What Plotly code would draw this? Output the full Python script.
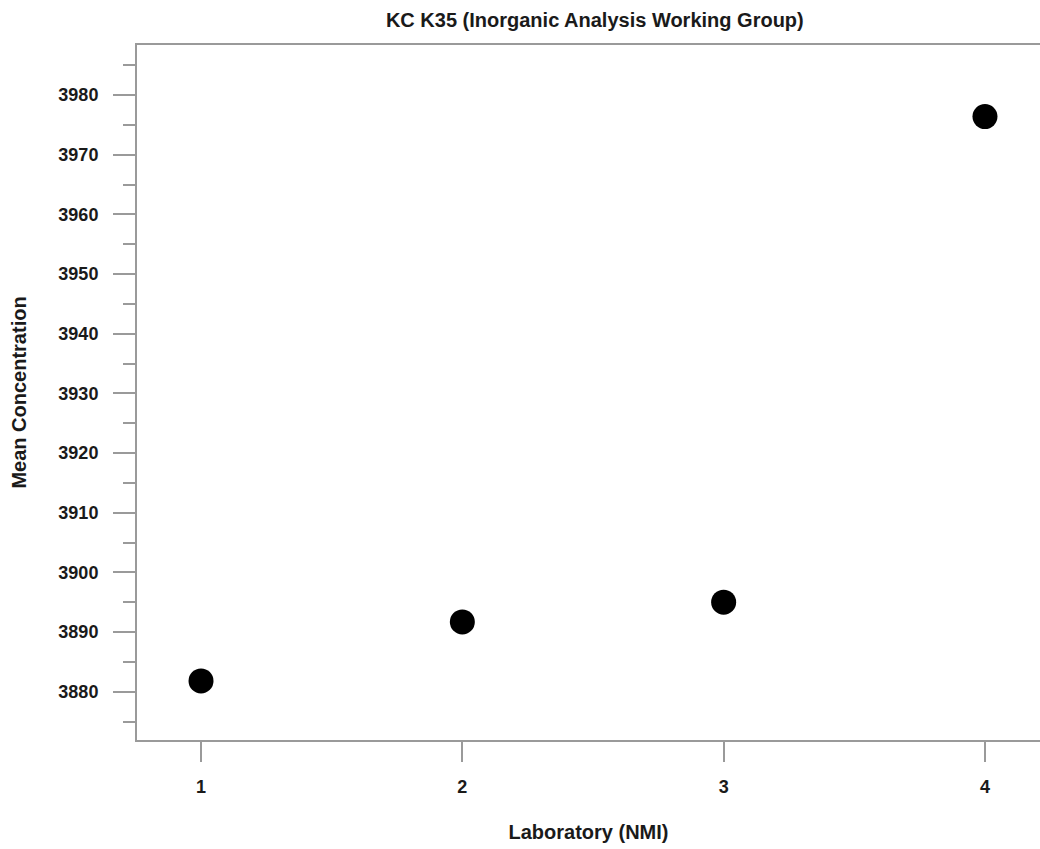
import plotly.graph_objects as go

# Mean concentration reported by each laboratory (NMI)
laboratories = [1, 2, 3, 4]
mean_concentration = [3881.8, 3891.7, 3895.0, 3976.4]

x_ticks = [1, 2, 3, 4]
y_ticks = [3880, 3890, 3900, 3910, 3920, 3930, 3940, 3950, 3960, 3970, 3980]

title_text = "KC K35 (Inorganic Analysis Working Group)"
x_title = "Laboratory (NMI)"
y_title = "Mean Concentration"

font_family = "Liberation Sans, Arial, sans-serif"
axis_gray = "#9a9a9a"

fig = go.Figure()
fig.add_trace(go.Scatter(
    x=laboratories,
    y=mean_concentration,
    mode="markers",
    marker=dict(symbol="circle", size=25, color="black", line=dict(width=0)),
    showlegend=False,
    hoverinfo="x+y",
))

fig.update_layout(
    width=1040,
    height=849,
    margin=dict(l=137, r=0, t=45, b=109),
    paper_bgcolor="white",
    plot_bgcolor="white",
    font=dict(family=font_family, color="#1a1a1a", size=18, weight="bold"),
    title=dict(
        text=title_text,
        x=0.507, xref="paper", xanchor="center",
        y=1 - 20 / 849, yref="container", yanchor="middle",
        font=dict(size=20, weight="bold"),
    ),
)

fig.update_xaxes(
    range=[0.755, 4.2106],
    tickmode="array", tickvals=x_ticks, ticktext=[str(v) for v in x_ticks],
    ticks="outside", ticklen=20, tickwidth=2, tickcolor=axis_gray,
    ticklabelstandoff=9,
    tickfont=dict(size=18, weight="bold"),
    showline=True, linecolor=axis_gray, linewidth=2, mirror=True,
    showgrid=False, zeroline=False,
    title=dict(text=x_title, standoff=29, font=dict(size=20, weight="bold")),
)

fig.update_yaxes(
    range=[3871.9, 3988.4],
    tickmode="array", tickvals=y_ticks, ticktext=[str(v) for v in y_ticks],
    ticks="outside", ticklen=22, tickwidth=2, tickcolor=axis_gray,
    ticklabelstandoff=11,
    tickfont=dict(size=18, weight="bold"),
    minor=dict(dtick=5, tick0=3875, ticks="outside", ticklen=12, tickwidth=2, tickcolor=axis_gray),
    showline=True, linecolor=axis_gray, linewidth=2, mirror=False,
    showgrid=False, zeroline=False,
    title=dict(text=y_title, standoff=26, font=dict(size=20, weight="bold")),
)

fig.write_html("out.html")
